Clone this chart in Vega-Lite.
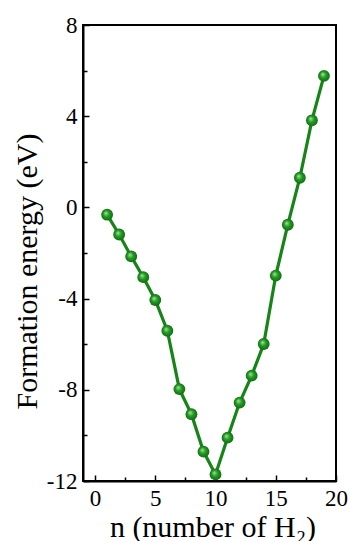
{
  "$schema": "https://vega.github.io/schema/vega-lite/v6.json",
  "width": 253,
  "height": 456,
  "autosize": {"type": "none"},
  "padding": {"left": 83, "top": 25, "right": 14, "bottom": 60},
  "background": "white",
  "config": {
    "view": {"stroke": "black", "strokeWidth": 2},
    "font": "'Liberation Serif', 'DejaVu Serif', serif"
  },
  "data": {
    "values": [
      {"n": 1, "E": -0.32},
      {"n": 2, "E": -1.19},
      {"n": 3, "E": -2.15},
      {"n": 4, "E": -3.06},
      {"n": 5, "E": -4.06},
      {"n": 6, "E": -5.41},
      {"n": 7, "E": -7.97},
      {"n": 8, "E": -9.07},
      {"n": 9, "E": -10.71},
      {"n": 10, "E": -11.71},
      {"n": 11, "E": -10.1},
      {"n": 12, "E": -8.56},
      {"n": 13, "E": -7.38},
      {"n": 14, "E": -5.99},
      {"n": 15, "E": -2.99},
      {"n": 16, "E": -0.76},
      {"n": 17, "E": 1.3},
      {"n": 18, "E": 3.82},
      {"n": 19, "E": 5.77}
    ]
  },
  "encoding": {
    "x": {
      "field": "n",
      "type": "quantitative",
      "scale": {"domain": [-1, 20], "nice": false, "zero": false},
      "axis": {
        "title": "n (number of H₂)",
        "values": [0, 2.5, 5, 7.5, 10, 12.5, 15, 17.5, 20],
        "labelExpr": "datum.value % 5 === 0 ? toString(datum.value) : ''",
        "labelFont": "'Liberation Serif', 'DejaVu Serif', serif",
        "labelFontSize": 23,
        "labelColor": "black",
        "labelPadding": 12,
        "labelFlush": false,
        "labelOverlap": false,
        "grid": false,
        "domainColor": "black",
        "domainWidth": 2,
        "tickColor": "black",
        "tickWidth": 1.5,
        "tickSize": {"condition": {"test": "datum.value % 5 === 0", "value": -6}, "value": -4},
        "titleFont": "'Liberation Serif', 'DejaVu Serif', serif",
        "titleFontSize": 30,
        "titleFontWeight": "normal",
        "titleColor": "black",
        "titleX": 129.5,
        "titleY": 55,
        "titleBaseline": "alphabetic",
        "titleAlign": "center"
      }
    },
    "y": {
      "field": "E",
      "type": "quantitative",
      "scale": {"domain": [-12, 8], "nice": false, "zero": false},
      "axis": {
        "title": "Formation energy (eV)",
        "values": [-12, -10, -8, -6, -4, -2, 0, 2, 4, 6, 8],
        "labelExpr": "datum.value % 4 === 0 ? toString(datum.value) : ''",
        "labelFont": "'Liberation Serif', 'DejaVu Serif', serif",
        "labelFontSize": 23,
        "labelColor": "black",
        "labelPadding": 12,
        "labelFlush": false,
        "labelOverlap": false,
        "grid": false,
        "domainColor": "black",
        "domainWidth": 2,
        "tickColor": "black",
        "tickWidth": 1.5,
        "tickSize": {"condition": {"test": "datum.value % 4 === 0", "value": -6}, "value": -4},
        "titleFont": "'Liberation Serif', 'DejaVu Serif', serif",
        "titleFontSize": 30,
        "titleFontWeight": "normal",
        "titleColor": "black",
        "titleAngle": -90,
        "titleX": -47,
        "titleY": 246,
        "titleBaseline": "alphabetic",
        "titleAlign": "center"
      }
    }
  },
  "layer": [
    {
      "mark": {"type": "line", "color": "#178417", "strokeWidth": 3.2}
    },
    {
      "mark": {
        "type": "point",
        "filled": true,
        "shape": "circle",
        "size": 140,
        "opacity": 1,
        "fill": {
          "gradient": "radial",
          "x1": 0.38, "y1": 0.35, "r1": 0,
          "x2": 0.5, "y2": 0.5, "r2": 0.55,
          "stops": [
            {"offset": 0, "color": "#a8eaa0"},
            {"offset": 0.45, "color": "#289a28"},
            {"offset": 1, "color": "#0b680b"}
          ]
        }
      }
    }
  ]
}
